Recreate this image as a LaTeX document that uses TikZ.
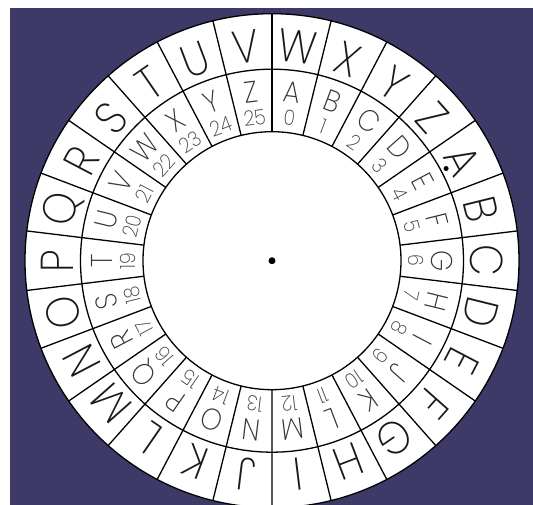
\documentclass[tikz,border=0pt]{standalone}
\usepackage{fontspec}
\newfontfamily\wheelfont{Poppins ExtraLight}[FakeStretch=0.9]
\usepackage{xcolor}
\definecolor{wheelbg}{RGB}{62,58,104}

\begin{document}
\begin{tikzpicture}[
    x=1pt, y=1pt,
    outerletter/.style={font=\wheelfont\fontsize{46}{46}\selectfont, text=black!90, inner sep=0pt},
    innerletter/.style={font=\wheelfont\fontsize{30}{30}\selectfont, text=black!80, inner sep=0pt},
    number/.style={font=\wheelfont\fontsize{21}{21}\selectfont, text=black!75, inner sep=0pt},
    ring/.style={draw=black, line width=1.3pt},
    spoke/.style={black, line width=1.3pt}
]

% Background
\useasboundingbox (-272,-244.3) rectangle (261,260.7);
\fill[wheelbg] (-262,-244.3) rectangle (261,252.7);

% Wheel
\coordinate (centre) at (0,0);
\fill[white] (centre) circle (247);
\foreach \k in {0,...,25}
    \draw[spoke] (90+\k*13.846:129) -- (90+\k*13.846:247);
\draw[ring] (centre) circle (247);
\draw[ring] (centre) circle (191.5);
\draw[ring] (centre) circle (129);

% Letters and numbers
\foreach \l [count=\i from 0] in {A,B,C,D,E,F,G,H,I,J,K,L,M,N,O,P,Q,R,S,T,U,V,W,X,Y,Z} {
    \pgfmathsetmacro{\a}{387.692-\i*13.846}
    \pgfmathsetmacro{\b}{83.077-\i*13.846}
    \node[outerletter, rotate=\a-90] (out-\l) at (\a:215) {\l};
    \node[innerletter, rotate=\b-90] (in-\l) at (\b:170) {\l};
    \node[number, rotate=\b-90] (num-\i) at (\b:144) {\i};
}

% Pins
\fill (centre) circle (3.5);
\fill (27.9:197) circle (2.5);

\end{tikzpicture}
\end{document}
